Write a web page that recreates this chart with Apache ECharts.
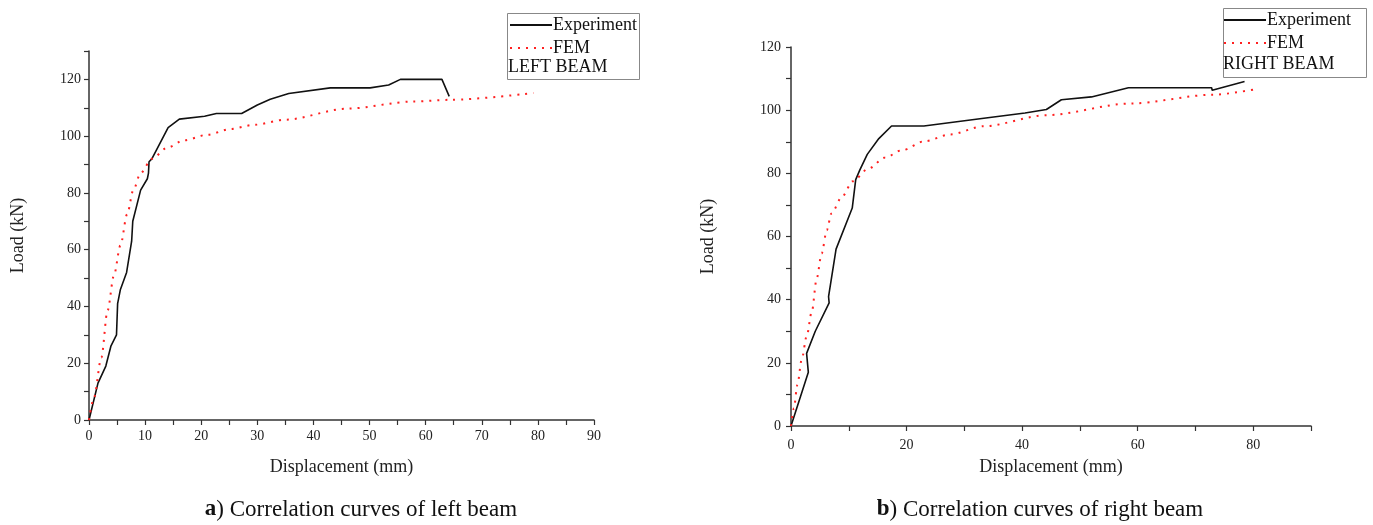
<!DOCTYPE html>
<html>
<head>
<meta charset="utf-8">
<script src="https://cdn.jsdelivr.net/npm/echarts@6/dist/echarts.min.js"></script>
<style>
  html, body { margin: 0; padding: 0; background: #fff; }
  #main { width: 1373px; height: 525px; }
</style>
</head>
<body>
<div id="main"></div>
<script>
// load-displacement data: [displacement mm, load kN]
var leftExp = [[0,0],[1.6,13],[3,19],[3.9,26],[4.9,30],[5.1,41],[5.6,46],[6.7,52],[7.6,63],[7.8,70],
  [9.2,81],[10.4,85],[10.6,87],[10.7,91],[11.2,92],[14.1,103],[16.1,106],[20.6,107],[22.7,108],[27.2,108],
  [30,111],[32.3,113],[35.6,115],[43,117],[50.1,117],[53.4,118],[55.5,120],[62.9,120],[64.2,114]];
var leftFem = [[0,0],[0.9,8],[2.2,22],[3.3,38.5],[4.45,51],[5.6,61.5],[6.8,72.5],[7.9,81],[9.2,87],
  [11.2,92],[14,96],[16.9,98.5],[21.1,100.5],[25.2,102.5],[29.4,104],[35,105.8],[46,109.7],[57.8,112.2],
  [64.4,112.8],[79.2,115.2]];
var rightExp = [[0,0],[3,17],[2.7,23],[4.2,30],[6.6,39],[6.5,41],[7.8,56],[10.6,69],[11.2,78],[11.9,81],
  [13.2,86],[15.2,91],[17.4,95],[23,95],[32.7,97.3],[40.5,99.1],[44.2,100.2],[46.8,103.3],[52,104.2],
  [58.4,107.1],[72.8,107.1],[72.9,106.3],[78.5,109.1]];
var rightFem = [[0,0],[0.5,5.6],[1.1,13],[1.85,21],[2.7,28.3],[3.6,36.2],[4.45,46.7],[5.3,54.6],[6.2,62],
  [7,67.3],[8.8,72.5],[10.7,77.5],[13.4,81.5],[16.3,85],[19.2,87.3],[23.2,90.2],[27.5,92.3],[33.3,94.9],
  [44.2,98.4],[58.7,102.1],[73.1,104.9],[80,106.5]];

var serif = '"Liberation Serif", "DejaVu Serif", serif';

function xAxis(gi, step, labelStep, margin, gap) {
  return {
    gridIndex: gi, type: 'value', min: 0, max: 90, interval: step,
    name: 'Displacement (mm)', nameLocation: 'middle', nameGap: gap,
    nameTextStyle: { fontFamily: serif, fontSize: 18, color: '#222' },
    axisLine: { lineStyle: { color: '#333', width: 1.5 } },
    axisTick: { length: 5, lineStyle: { color: '#333', width: 1.2 } },
    axisLabel: {
      margin: margin, fontFamily: serif, fontSize: 14, color: '#222',
      formatter: function (v) { return v % labelStep === 0 && v < 90 || (labelStep === 10 && v === 90) ? v : ''; }
    },
    splitLine: { show: false }
  };
}
function yAxis(gi, max, margin, gap) {
  return {
    gridIndex: gi, type: 'value', min: 0, max: max, interval: 10,
    name: 'Load (kN)', nameLocation: 'middle', nameGap: gap,
    nameTextStyle: { fontFamily: serif, fontSize: 18, color: '#222' },
    axisLine: { show: true, lineStyle: { color: '#333', width: 1.5 } },
    axisTick: { length: 5, lineStyle: { color: '#333', width: 1.2 } },
    axisLabel: {
      margin: margin, fontFamily: serif, fontSize: 14, color: '#222',
      formatter: function (v) { return v % 20 === 0 ? v : ''; }
    },
    splitLine: { show: false }
  };
}
function expSeries(idx, data) {
  return { name: 'Experiment', type: 'line', xAxisIndex: idx, yAxisIndex: idx, data: data,
    symbol: 'none', lineStyle: { color: '#111', width: 1.6 }, itemStyle: { color: '#111' } };
}
function femSeries(idx, data) {
  return { name: 'FEM', type: 'line', xAxisIndex: idx, yAxisIndex: idx, data: data,
    symbol: 'none', smooth: 0.3, smoothMonotone: 'x',
    lineStyle: { color: '#ff2020', width: 2, type: [2, 6] }, itemStyle: { color: '#ff2020' } };
}
function legend(left, top) {
  return { orient: 'vertical', left: left, top: top, itemWidth: 42, itemHeight: 10, itemGap: 5,
    padding: 0, data: ['Experiment', 'FEM'], selectedMode: false,
    itemStyle: { opacity: 0 },
    textStyle: { fontFamily: serif, fontSize: 18, color: '#111', padding: [0, 0, 0, -4] } };
}
function caption(x, tag, text) {
  return { type: 'text', x: x, y: 498, style: {
    text: '{b|' + tag + '}) ' + text, font: '23px ' + serif, fill: '#111', align: 'center',
    rich: { b: { fontWeight: 'bold', fontSize: 23, fontFamily: serif } } } };
}

var chart = echarts.init(document.getElementById('main'));
chart.setOption({
  backgroundColor: '#fff',
  animation: false,
  grid: [
    { left: 89, top: 51, width: 505, height: 369 },
    { left: 791, top: 47, width: 520, height: 379 }
  ],
  xAxis: [xAxis(0, 5, 10, 9, 38), xAxis(1, 10, 20, 12, 32)],
  yAxis: [yAxis(0, 130, 8, 62), yAxis(1, 120, 10, 74)],
  legend: [legend(509, 16), legend(1223, 11)],
  series: [expSeries(0, leftExp), femSeries(0, leftFem), expSeries(1, rightExp), femSeries(1, rightFem)],
  graphic: [
    { type: 'rect', left: 505, top: 11, shape: { width: 132, height: 66 },
      style: { fill: 'none', stroke: '#888', lineWidth: 1 } },
    { type: 'text', left: 508, top: 58, style: { text: 'LEFT BEAM', font: '18px ' + serif, fill: '#111' } },
    { type: 'rect', left: 1221, top: 6, shape: { width: 143, height: 69 },
      style: { fill: 'none', stroke: '#888', lineWidth: 1 } },
    { type: 'text', left: 1223, top: 55, style: { text: 'RIGHT BEAM', font: '18px ' + serif, fill: '#111' } },
    caption(361, 'a', 'Correlation curves of left beam'),
    caption(1040, 'b', 'Correlation curves of right beam')
  ]
});
</script>
</body>
</html>
